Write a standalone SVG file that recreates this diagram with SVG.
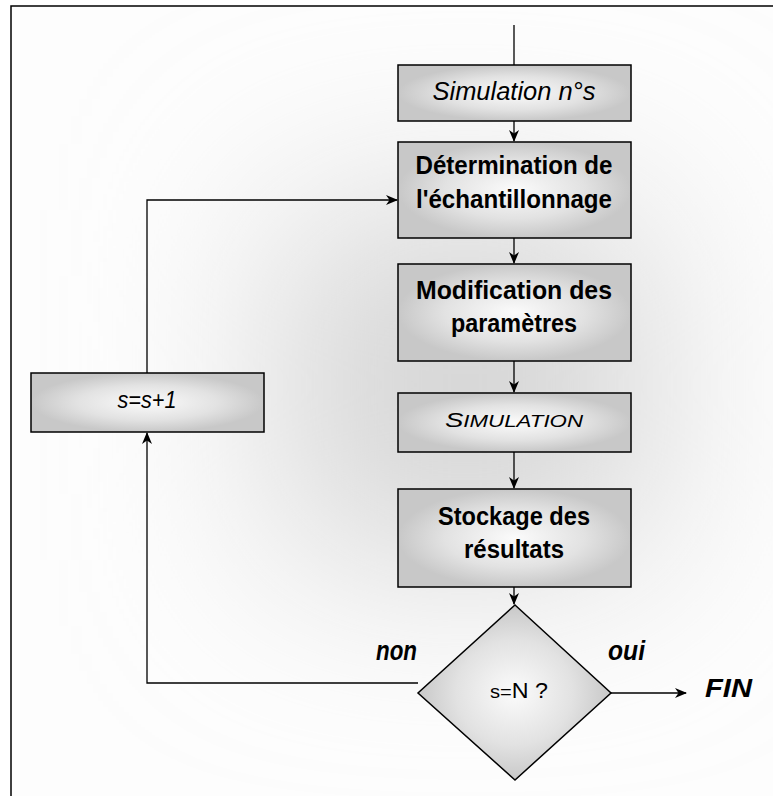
<svg xmlns="http://www.w3.org/2000/svg" width="773" height="796" viewBox="0 0 773 796">
<style>
.box{stroke:#000;stroke-width:1.5}
.conn{stroke:#000;stroke-width:1.3;fill:none}
.t{font-family:"Liberation Sans","DejaVu Sans",sans-serif;fill:#000}
.b{font-weight:bold}
.i{font-style:italic}
</style>
<defs>
<filter id="blur" x="-100%" y="-100%" width="300%" height="300%">
<feGaussianBlur stdDeviation="100"/>
</filter>
<clipPath id="frame"><rect x="11" y="6" width="762" height="790"/></clipPath>
<radialGradient id="bx" cx="0.5" cy="0.5" r="0.5">
<stop offset="0" stop-color="#fbfbfb"/>
<stop offset="0.6" stop-color="#e2e2e2"/>
<stop offset="1" stop-color="#c8c8c8"/>
</radialGradient>
<marker id="ar" viewBox="0 0 12 10" refX="11" refY="5" markerWidth="12" markerHeight="10" markerUnits="userSpaceOnUse" orient="auto">
<path d="M0,0 L12,5 L0,10 L3.5,5 z" fill="#000"/>
</marker>
</defs>
<rect x="0" y="0" width="773" height="796" fill="#fff"/>
<g clip-path="url(#frame)">
<rect x="11" y="6" width="762" height="790" fill="#fdfdfd"/>
<rect x="280" y="210" width="370" height="350" fill="#d4d4d4" filter="url(#blur)"/>
</g>
<path d="M11,796 V6 H773" fill="none" stroke="#000" stroke-width="1.5"/>

<g id="connectors">
<line class="conn" x1="514" y1="25" x2="514" y2="65"/>
<line class="conn" x1="514" y1="121" x2="514" y2="141" marker-end="url(#ar)"/>
<line class="conn" x1="514" y1="238" x2="514" y2="263" marker-end="url(#ar)"/>
<line class="conn" x1="514" y1="361" x2="514" y2="392" marker-end="url(#ar)"/>
<line class="conn" x1="514" y1="452" x2="514" y2="488" marker-end="url(#ar)"/>
<line class="conn" x1="514" y1="587" x2="514" y2="604" marker-end="url(#ar)"/>
<path class="conn" d="M147,373 V200 H397" marker-end="url(#ar)"/>
<path class="conn" d="M418,683 H147 V433" marker-end="url(#ar)"/>
<line class="conn" x1="611" y1="693" x2="686" y2="693" marker-end="url(#ar)"/>
</g>

<g id="n_sim_s">
<rect class="box" x="398" y="65" width="233" height="56" fill="url(#bx)"/>
<text class="t i" x="514" y="100" font-size="26" text-anchor="middle" textLength="163" lengthAdjust="spacingAndGlyphs">Simulation n°s</text>
</g>
<g id="n_determination">
<rect class="box" x="398" y="142" width="233" height="96" fill="url(#bx)"/>
<text class="t b" x="514" y="174" font-size="25" text-anchor="middle" textLength="197" lengthAdjust="spacingAndGlyphs">Détermination de</text>
<text class="t b" x="514" y="208" font-size="25" text-anchor="middle" textLength="196" lengthAdjust="spacingAndGlyphs">l'échantillonnage</text>
</g>
<g id="n_modification">
<rect class="box" x="398" y="264" width="233" height="97" fill="url(#bx)"/>
<text class="t b" x="514" y="299" font-size="25" text-anchor="middle" textLength="196" lengthAdjust="spacingAndGlyphs">Modification des</text>
<text class="t b" x="514" y="332" font-size="25" text-anchor="middle" textLength="126" lengthAdjust="spacingAndGlyphs">paramètres</text>
</g>
<g id="n_simulation">
<rect class="box" x="398" y="393" width="233" height="59" fill="url(#bx)"/>
<text class="t i" x="514" y="427" font-size="21" text-anchor="middle" textLength="138" lengthAdjust="spacingAndGlyphs">S<tspan font-size="17">IMULATION</tspan></text>
</g>
<g id="n_stockage">
<rect class="box" x="398" y="489" width="233" height="98" fill="url(#bx)"/>
<text class="t b" x="514" y="525" font-size="25" text-anchor="middle" textLength="152" lengthAdjust="spacingAndGlyphs">Stockage des</text>
<text class="t b" x="514" y="558" font-size="25" text-anchor="middle" textLength="100" lengthAdjust="spacingAndGlyphs">résultats</text>
</g>
<g id="n_decision">
<polygon class="box" points="515,605 611,693 515,780 418,693" fill="url(#bx)"/>
<text class="t" x="519" y="698" font-size="22" text-anchor="middle" textLength="58" lengthAdjust="spacingAndGlyphs"><tspan font-size="19">s=</tspan>N ?</text>
</g>
<g id="n_increment">
<rect class="box" x="31" y="373" width="233" height="59" fill="url(#bx)"/>
<text class="t i" x="147" y="408" font-size="23" text-anchor="middle" textLength="59" lengthAdjust="spacingAndGlyphs">s=s+1</text>
</g>
<g id="labels">
<text class="t b i" x="376" y="660" font-size="27" textLength="41" lengthAdjust="spacingAndGlyphs">non</text>
<text class="t b i" x="608" y="660" font-size="27" textLength="37" lengthAdjust="spacingAndGlyphs">oui</text>
<text class="t b i" x="705" y="697" font-size="26" textLength="47" lengthAdjust="spacingAndGlyphs">FIN</text>
</g>
</svg>
